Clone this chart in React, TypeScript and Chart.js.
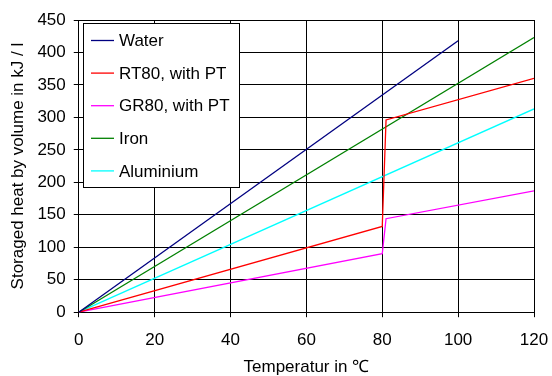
import React, { useEffect, useRef } from "react";
import { Chart, registerables } from "chart.js";

Chart.register(...registerables);

const seriesNames = ["Water", "RT80, with PT", "GR80, with PT", "Iron", "Aluminium"];
const seriesColors = ["#000080", "#FF0000", "#FF00FF", "#008000", "#00FFFF"];
const waterT = [0, 100];
const waterQ = [0, 418];
const rt80T = [0, 80, 81, 120];
const rt80Q = [0, 132, 296, 360];
const gr80T = [0, 80, 81, 120];
const gr80Q = [0, 90, 144, 187];
const ironT = [0, 120];
const ironQ = [0, 423];
const aluT = [0, 120];
const aluQ = [0, 313];
const xTicks = [0, 20, 40, 60, 80, 100, 120];
const yTicks = [0, 50, 100, 150, 200, 250, 300, 350, 400, 450];

const FONT = "'Liberation Sans', Arial, sans-serif";
const FS = 17;

const toPts = (t: number[], q: number[]) => t.map((x, i) => ({ x, y: q[i] }));

const legendBox = {
  id: "legendBox",
  afterDatasetsDraw(chart: any) {
    const ctx = chart.ctx;
    const x0 = chart.scales.x.getPixelForValue(0);
    const top = chart.scales.y.getPixelForValue(450);
    const left = Math.round(x0) + 4;
    const boxTop = Math.round(top) + 3;
    const w = 156;
    const h = 164;
    ctx.save();
    ctx.fillStyle = "#ffffff";
    ctx.fillRect(left, boxTop, w, h);
    ctx.strokeStyle = "#000000";
    ctx.lineWidth = 1;
    ctx.strokeRect(left + 0.5, boxTop + 0.5, w, h);
    ctx.font = FS + "px " + FONT;
    ctx.textBaseline = "middle";
    chart.data.datasets.forEach((ds: any, i: number) => {
      const yy = boxTop + 17.5 + i * 32.6;
      ctx.strokeStyle = ds.borderColor;
      ctx.lineWidth = 1.3;
      ctx.beginPath();
      ctx.moveTo(left + 8, yy);
      ctx.lineTo(left + 31, yy);
      ctx.stroke();
      ctx.fillStyle = "#000000";
      ctx.fillText(ds.label, left + 36, yy + 1);
    });
    ctx.restore();
  },
};

export default function App() {
  const ref = useRef<HTMLCanvasElement>(null);
  useEffect(() => {
    document.body.style.margin = "0";
    const datasets = [
      toPts(waterT, waterQ),
      toPts(rt80T, rt80Q),
      toPts(gr80T, gr80Q),
      toPts(ironT, ironQ),
      toPts(aluT, aluQ),
    ].map((d, i) => ({
      label: seriesNames[i],
      data: d,
      borderColor: seriesColors[i],
      backgroundColor: seriesColors[i],
      borderWidth: 1.3,
      pointRadius: 0,
      tension: 0,
      fill: false,
    }));
    const chart = new Chart(ref.current!, {
      type: "line",
      data: { datasets },
      plugins: [legendBox],
      options: {
        responsive: false,
        animation: false,
        layout: { padding: { left: 8, right: 0, top: 20, bottom: 0 } },
        plugins: { legend: { display: false }, tooltip: { enabled: false } },
        scales: {
          x: {
            type: "linear",
            min: 0,
            max: 120,
            afterBuildTicks: (s: any) => {
              s.ticks = xTicks.map((v) => ({ value: v }));
            },
            afterFit: (s: any) => {
              s.paddingRight = 18;
            },
            ticks: { color: "#000", font: { family: FONT, size: FS }, padding: 13, maxRotation: 0 },
            grid: { color: "#000", lineWidth: 1, tickLength: 5, drawTicks: true },
            border: { color: "#000", width: 1 },
            title: {
              display: true,
              text: "Temperatur in ℃",
              color: "#000",
              font: { family: FONT, size: FS },
              padding: { top: -6, bottom: -2 },
            },
          },
          y: {
            type: "linear",
            min: 0,
            max: 450,
            afterBuildTicks: (s: any) => {
              s.ticks = yTicks.map((v) => ({ value: v }));
            },
            ticks: { color: "#000", font: { family: FONT, size: FS }, padding: 8 },
            grid: { color: "#000", lineWidth: 1, tickLength: 5, drawTicks: true },
            border: { color: "#000", width: 1 },
            title: {
              display: true,
              text: "Storaged heat by volume in kJ / l",
              color: "#000",
              font: { family: FONT, size: FS },
              padding: { top: 0, bottom: 1 },
            },
          },
        },
      },
    });
    return () => chart.destroy();
  }, []);
  return <canvas ref={ref} width={552} height={376} style={{ display: "block" }} />;
}
